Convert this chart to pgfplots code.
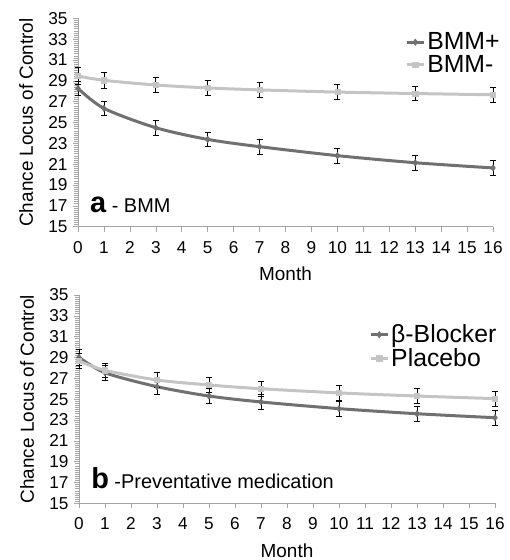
\documentclass[border=0pt]{standalone}
\usepackage{fontspec}
\setmainfont{Liberation Sans}
\usepackage{pgfplots}
\pgfplotsset{compat=1.18}
\definecolor{darkser}{RGB}{112,112,112}
\definecolor{lightser}{RGB}{196,196,196}
\definecolor{axgray}{RGB}{165,165,165}

\pgfplotsset{
  locpanel/.style={
    scale only axis, anchor=south west,
    xmin=0, xmax=16, ymin=15, ymax=35,
    axis x line=bottom, axis y line=left,
    axis line style={-, axgray, line width=0.8bp},
    xtick={0,...,16}, ytick={15,17,...,35},
    minor y tick num=9,
    tick align=outside,
    major tick length=5bp, minor tick length=4bp,
    tick style={axgray, line width=0.6bp},
    /pgf/number format/assume math mode=true,
    every tick label/.append style={font=\LARGE, text=black},
    xticklabel style={yshift=-6bp},
    yticklabel style={xshift=-2bp},
    xlabel={Month}, ylabel={Chance Locus of Control},
    label style={font=\fontsize{19}{22}\selectfont},
    xlabel style={at={(axis description cs:0.5,-0.227)}, anchor=center},
    ylabel style={at={(axis description cs:-0.125,0.5)}, anchor=center},
    legend cell align=left,
    legend style={draw=none, fill=none, anchor=north west, font=\Huge},
    clip=false,
  },
  errstyle/.style={error bars/.cd, y dir=both, y explicit,
    error bar style={black, line width=0.8bp},
    error mark options={black, rotate=90, mark size=3bp, line width=0.8bp}},
  darkline/.style={darkser, line width=3bp, smooth, mark=diamond*, mark size=3.2bp,
    mark options={fill=darkser, draw=darkser, line width=0.5bp}, errstyle},
  lightline/.style={lightser, line width=3bp, smooth, mark=square*, mark size=2.6bp,
    mark options={fill=lightser, draw=lightser, line width=0.5bp}, errstyle},
}

\begin{document}
\begin{tikzpicture}
\useasboundingbox (0,0) rectangle (510bp,-560bp);

% a - BMM
\begin{axis}[locpanel, at={(78bp,-226.7bp)}, width=415bp, height=208.4bp,
  legend style={at={(rel axis cs:0.781,0.95)}}]
\addplot[darkline] coordinates {
  (0,28.28) +- (0,0.7) (1,26.36) +- (0,0.7) (3,24.5) +- (0,0.7) (5,23.38) +- (0,0.7)
  (7,22.68) +- (0,0.7) (10,21.82) +- (0,0.7) (13,21.14) +- (0,0.7) (16,20.64) +- (0,0.7)};
\addplot[lightline] coordinates {
  (0,29.46) +- (0,0.8) (1,29.05) +- (0,0.75) (3,28.6) +- (0,0.7) (5,28.32) +- (0,0.7)
  (7,28.13) +- (0,0.7) (10,27.92) +- (0,0.7) (13,27.78) +- (0,0.7) (16,27.66) +- (0,0.7)};
\legend{BMM+,BMM-}
\node[anchor=base west, inner sep=0pt] at (rel axis cs:0.029,0.066)
  {{\fontsize{29}{30}\selectfont\bfseries a}\fontsize{20}{24}\selectfont{} - BMM};
\end{axis}

% b - Preventative medication
\begin{axis}[locpanel, at={(79bp,-503.3bp)}, width=416bp, height=208.3bp,
  legend style={at={(rel axis cs:0.690,0.876)}}]
\addplot[darkline] coordinates {
  (0,29.02) +- (0,0.8) (1,27.54) +- (0,0.7) (3,26.2) +- (0,0.7) (5,25.3) +- (0,0.7)
  (7,24.73) +- (0,0.7) (10,24.09) +- (0,0.7) (13,23.6) +- (0,0.7) (16,23.22) +- (0,0.7)};
\addplot[lightline] coordinates {
  (0,28.66) +- (0,0.75) (1,27.77) +- (0,0.7) (3,26.84) +- (0,0.7) (5,26.36) +- (0,0.7)
  (7,26.0) +- (0,0.7) (10,25.6) +- (0,0.7) (13,25.3) +- (0,0.7) (16,25.05) +- (0,0.7)};
\legend{β-Blocker,Placebo}
\node[anchor=base west, inner sep=0pt] at (rel axis cs:0.029,0.069)
  {{\fontsize{29}{30}\selectfont\bfseries b}\fontsize{20}{24}\selectfont{} -Preventative medication};
\end{axis}
\end{tikzpicture}
\end{document}
